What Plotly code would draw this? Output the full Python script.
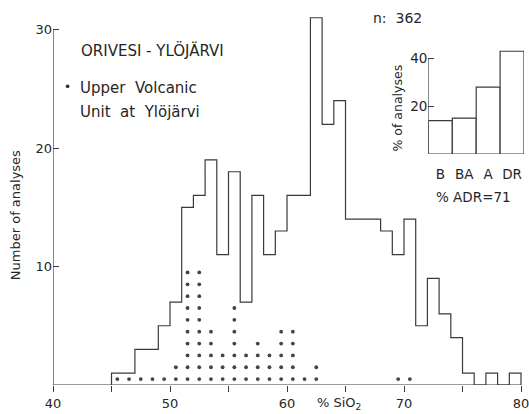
import plotly.graph_objects as go

# Histogram of SiO2 (bin left edges, width 1 %)
bin_left = list(range(45, 80))
counts = [1, 1, 3, 3, 5, 7, 15, 16, 19, 11, 18, 7, 16, 11, 13, 16, 16,
          31, 22, 24, 14, 14, 14, 13, 11, 14, 5, 9, 6, 4, 1, 0, 1, 0, 1]

# Upper Volcanic Unit at Ylöjärvi (dots), bin centres and counts
dot_bins = [45.5, 46.5, 47.5, 48.5, 49.5, 50.5, 51.5, 52.5, 53.5, 54.5,
            55.5, 56.5, 57.5, 58.5, 59.5, 60.5, 61.5, 62.5, 69.5, 70.5]
dot_counts = [1, 1, 1, 1, 1, 2, 10, 10, 5, 3, 7, 3, 4, 3, 5, 5, 1, 2, 1, 1]

# Inset: % of analyses by rock type
inset_cats = ["B", "BA", "A", "DR"]
inset_vals = [14, 15, 28, 43]

x_major = [40, 50, 60, 70, 80]
x_minor = [45, 55, 65, 75]
y_ticks = [10, 20, 30]

LINE = "#3a3a3a"
TXT = "#262626"
FONT = "DejaVu Sans"

# step outline of histogram
xs, ys = [bin_left[0]], [0]
for left, c in zip(bin_left, counts):
    xs += [left, left + 1]
    ys += [c, c]
xs.append(bin_left[-1] + 1)
ys.append(0)

dx, dy = [], []
for b, k in zip(dot_bins, dot_counts):
    for j in range(k):
        dx.append(b)
        dy.append(j + 0.5)

fig = go.Figure()
fig.add_trace(go.Scatter(x=xs, y=ys, mode="lines",
                         line=dict(color=LINE, width=1.2), hoverinfo="skip",
                         showlegend=False))
fig.add_trace(go.Scatter(x=dx, y=dy, mode="markers",
                         marker=dict(color="#444444", size=3.8),
                         showlegend=False))
fig.add_trace(go.Bar(x=inset_cats, y=inset_vals, xaxis="x2", yaxis="y2",
                     width=1, marker=dict(color="white",
                                          line=dict(color=LINE, width=1.2)),
                     showlegend=False))

W, H = 529, 414
ML, MR, MT, MB = 53, 3, 0, 29
PW, PH = W - ML - MR, H - MT - MB
px_per_x = 11.75
x_max = 40 + PW / px_per_x


def fx(px):
    return (px - ML) / PW


def fy(py):
    return (H - MB - py) / PH


annotations = []


def ann(text, px, py, size, xanchor="left", yanchor="middle", angle=0):
    annotations.append(dict(text=text, x=fx(px), y=fy(py), xref="paper",
                            yref="paper", showarrow=False, xanchor=xanchor,
                            yanchor=yanchor, textangle=angle,
                            font=dict(family=FONT, size=size, color=TXT)))


ann("ORIVESI - YLÖJÄRVI", 79, 50, 15)
ann("•", 68, 87, 12, xanchor="center")
ann("Upper\u00a0\u00a0Volcanic", 78, 88, 15)
ann("Unit\u00a0\u00a0at\u00a0\u00a0Ylöjärvi", 78, 112, 15)
ann("n:\u00a0\u00a0362", 372, 18, 14)
ann("% of analyses", 398, 108, 12.5, xanchor="center", angle=-90)
ann("Number of analyses", 15, 215, 13, xanchor="center", angle=-90)
ann("% ADR=71", 436, 197, 13.5)
ann("% SiO<sub>2</sub>", 316, 404, 13)

fig.update_layout(
    width=W, height=H,
    margin=dict(l=ML, r=MR, t=MT, b=MB),
    paper_bgcolor="white", plot_bgcolor="white",
    font=dict(family=FONT, color=TXT),
    xaxis=dict(range=[40, x_max], tickvals=x_major,
               ticks="outside", ticklen=6, tickcolor=LINE, showgrid=False,
               minor=dict(tickvals=x_minor, ticks="outside", ticklen=6,
                          tickcolor=LINE, showgrid=False),
               zeroline=False, showline=False, ticklabeloverflow="allow",
               tickfont=dict(family=FONT, size=13, color=TXT)),
    yaxis=dict(range=[0, 32.5], tickvals=y_ticks, ticks="inside", ticklen=6,
               tickcolor=LINE, showgrid=False, zeroline=False, showline=False,
               tickfont=dict(family=FONT, size=13, color=TXT)),
    xaxis2=dict(domain=[fx(430), fx(526)], anchor="y2", range=[-0.5, 3.5],
                showgrid=False, zeroline=False, showline=False, ticks="",
                ticklabelstandoff=10,
                tickfont=dict(family=FONT, size=13.5, color=TXT)),
    yaxis2=dict(domain=[fy(154), fy(154 - 45 * 2.39)], anchor="x2",
                range=[0, 45], tickvals=[20, 40], ticks="inside", ticklen=6,
                tickcolor=LINE, showgrid=False, zeroline=False,
                showline=False,
                tickfont=dict(family=FONT, size=13.5, color=TXT)),
    annotations=annotations,
    shapes=[
        dict(type="line", xref="x", yref="y", x0=40, x1=80, y0=0, y1=0,
             line=dict(color=LINE, width=1.2)),
        dict(type="line", xref="x", yref="y", x0=40, x1=40, y0=0, y1=30,
             line=dict(color=LINE, width=1.2)),
        dict(type="line", xref="x2", yref="y2", x0=-0.5, x1=-0.5, y0=0,
             y1=40, line=dict(color=LINE, width=1.2)),
    ],
)

fig.write_html("out.html")
